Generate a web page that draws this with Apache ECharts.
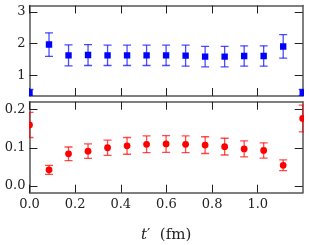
<!DOCTYPE html>
<html>
<head>
<meta charset="utf-8">
<script src="https://cdn.jsdelivr.net/npm/echarts@6/dist/echarts.min.js"></script>
<style>html,body{margin:0;padding:0;background:#fff}#c{width:309px;height:245px}</style>
</head>
<body>
<div id="c"></div>
<script>
const tValues = [0, 0.0855, 0.171, 0.2565, 0.342, 0.4275, 0.513, 0.5985, 0.684, 0.7695, 0.855, 0.9405, 1.026, 1.1115, 1.197];
const topValues = [0.45, 1.97, 1.63, 1.64, 1.63, 1.63, 1.63, 1.63, 1.62, 1.59, 1.59, 1.61, 1.61, 1.91, 0.46];
const topErrors = [0.11, 0.37, 0.33, 0.33, 0.32, 0.32, 0.32, 0.32, 0.33, 0.32, 0.32, 0.32, 0.32, 0.37, 0.10];
const bottomValues = [0.160, 0.042, 0.084, 0.091, 0.100, 0.105, 0.109, 0.110, 0.109, 0.107, 0.103, 0.097, 0.093, 0.054, 0.177];
const bottomErrors = [0.033, 0.012, 0.018, 0.019, 0.020, 0.022, 0.022, 0.022, 0.022, 0.022, 0.022, 0.021, 0.020, 0.014, 0.035];
const xTicks = [0, 0.2, 0.4, 0.6, 0.8, 1.0];
const topYTicks = [1, 2, 3];
const bottomYTicks = [0, 0.1, 0.2];

const FONT = 'DejaVu Serif';
const frameColor = '#555';
const tickColor = '#222';

function build(vals, errs) {
  return tValues.map((t, i) => [t, vals[i], vals[i] - errs[i], vals[i] + errs[i]]);
}

function makeRender(color, barColor, shape) {
  return function (params, api) {
    const x = api.value(0), y = api.value(1), lo = api.value(2), hi = api.value(3);
    const c = api.coord([x, y]);
    const cl = api.coord([x, lo]);
    const ch = api.coord([x, hi]);
    const cap = 4;
    const ls = { stroke: barColor, lineWidth: 1.3 };
    const children = [
      { type: 'line', shape: { x1: c[0], y1: cl[1], x2: c[0], y2: ch[1] }, style: ls },
      { type: 'line', shape: { x1: c[0] - cap, y1: cl[1], x2: c[0] + cap, y2: cl[1] }, style: ls },
      { type: 'line', shape: { x1: c[0] - cap, y1: ch[1], x2: c[0] + cap, y2: ch[1] }, style: ls }
    ];
    if (shape === 'rect') {
      children.push({ type: 'rect', shape: { x: c[0] - 3.2, y: c[1] - 3.2, width: 6.4, height: 6.4 }, style: { fill: color } });
    } else {
      children.push({ type: 'circle', shape: { cx: c[0], cy: c[1], r: 3.4 }, style: { fill: color } });
    }
    return { type: 'group', children };
  };
}

function xAx(grid, pos, showLabel) {
  const a = {
    type: 'value', gridIndex: grid, position: pos, min: 0, max: 1.197,
    axisLine: { show: true, onZero: false, lineStyle: { color: frameColor, width: 1.5 } },
    axisTick: { show: true, inside: true, length: 8, customValues: xTicks, lineStyle: { color: tickColor, width: 1 } },
    axisLabel: { show: showLabel, customValues: xTicks, margin: 5, color: '#222', fontFamily: FONT, fontSize: 13,
      formatter: v => v.toFixed(1) },
    splitLine: { show: false }
  };
  if (showLabel) {
    a.name = '{i|t}′  (fm)';
    a.nameLocation = 'middle';
    a.nameGap = 35;
    a.nameTextStyle = { fontFamily: FONT, fontSize: 15, color: '#222',
      rich: { i: { fontFamily: FONT, fontStyle: 'italic', fontSize: 15, color: '#222' } } };
  }
  return a;
}

function yAx(grid, pos, min, max, ticks, showLabel, dec) {
  return {
    type: 'value', gridIndex: grid, position: pos, min: min, max: max,
    axisLine: { show: true, onZero: false, lineStyle: { color: frameColor, width: 1.5 } },
    axisTick: { show: true, inside: true, length: 8, customValues: ticks, lineStyle: { color: tickColor, width: 1 } },
    axisLabel: { show: showLabel, customValues: ticks, margin: 4, color: '#222', fontFamily: FONT, fontSize: 13,
      formatter: v => v.toFixed(dec) },
    splitLine: { show: false }
  };
}

const chart = echarts.init(document.getElementById('c'), null, { renderer: 'canvas' });
chart.setOption({
  animation: false,
  backgroundColor: '#fff',
  grid: [
    { left: 29.5, right: 6.3, top: 5.5, height: 90.5 },
    { left: 29.5, right: 6.3, top: 101.7, height: 91 }
  ],
  xAxis: [xAx(0, 'bottom', false), xAx(0, 'top', false), xAx(1, 'bottom', true), xAx(1, 'top', false)],
  yAxis: [
    yAx(0, 'left', 0.35, 3.2, topYTicks, true, 0),
    yAx(0, 'right', 0.35, 3.2, topYTicks, false, 0),
    yAx(1, 'left', -0.018, 0.221, bottomYTicks, true, 1),
    yAx(1, 'right', -0.018, 0.221, bottomYTicks, false, 1)
  ],
  series: [
    { type: 'custom', xAxisIndex: 0, yAxisIndex: 0, clip: true,
      renderItem: makeRender('#0000ff', 'rgba(0,0,255,0.7)', 'rect'),
      data: build(topValues, topErrors), encode: { x: 0, y: [1, 2, 3] } },
    { type: 'custom', xAxisIndex: 2, yAxisIndex: 2, clip: true,
      renderItem: makeRender('#ff0000', 'rgba(255,0,0,0.7)', 'circle'),
      data: build(bottomValues, bottomErrors), encode: { x: 0, y: [1, 2, 3] } }
  ]
});
</script>
</body>
</html>
